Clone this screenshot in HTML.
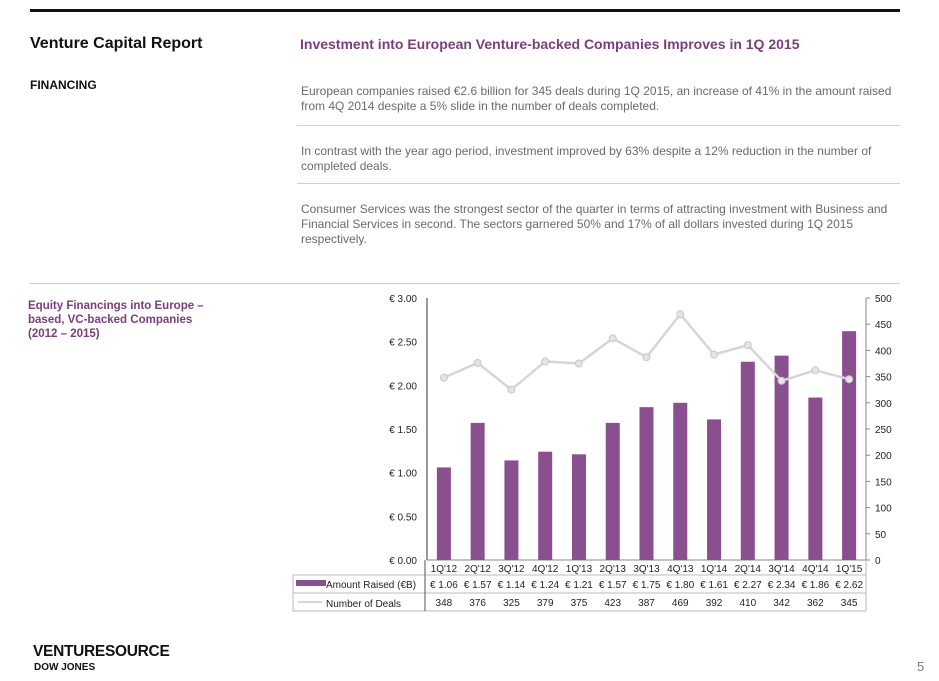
<!DOCTYPE html>
<html><head><meta charset="utf-8"><style>
body{margin:0;width:939px;height:681px;background:#fff;font-family:"Liberation Sans",sans-serif;position:relative;overflow:hidden}
.a{position:absolute}
.p{color:#6a6a6a;font-size:12px;line-height:15px;width:595px;left:301px}
.hr{position:absolute;height:1px;background:#cfcfcf}
</style></head><body>
<div class="a" style="left:30px;top:9px;width:870px;height:3px;background:#111"></div>
<div class="a" style="left:30px;top:35px;font-size:16px;font-weight:bold;color:#111">Venture Capital Report</div>
<div class="a" style="left:300px;top:36px;font-size:14px;font-weight:bold;color:#7a3e7c">Investment into European Venture-backed Companies Improves in 1Q 2015</div>
<div class="a" style="left:30px;top:78px;font-size:12px;font-weight:bold;color:#111">FINANCING</div>
<div class="a p" style="top:84px">European companies raised €2.6 billion for 345 deals during 1Q 2015, an increase of 41% in the amount raised from 4Q 2014 despite a 5% slide in the number of deals completed.</div>
<div class="hr" style="left:297px;top:125px;width:603px"></div>
<div class="a p" style="top:144px">In contrast with the year ago period, investment improved by 63% despite a 12% reduction in the number of completed deals.</div>
<div class="hr" style="left:297px;top:183px;width:603px"></div>
<div class="a p" style="top:202px">Consumer Services was the strongest sector of the quarter in terms of attracting investment with Business and Financial Services in second. The sectors garnered 50% and 17% of all dollars invested during 1Q 2015 respectively.</div>
<div class="hr" style="left:30px;top:283px;width:870px"></div>
<div class="a" style="left:28px;top:299px;font-size:11.5px;line-height:14px;font-weight:bold;color:#7a3e7c;width:185px">Equity Financings into Europe – based, VC-backed Companies (2012 – 2015)</div>
<svg id="ch" class="a" style="left:0;top:0" width="939" height="681"></svg>
<div class="a" style="left:33px;top:643px;font-size:15.5px;font-weight:bold;color:#111;letter-spacing:-0.3px">VENTURESOURCE</div>
<div class="a" style="left:34px;top:662px;font-size:10px;font-weight:bold;color:#111">DOW JONES</div>
<div class="a" style="left:917px;top:659px;font-size:13px;color:#777">5</div>
<script>
const categories=["1Q'12","2Q'12","3Q'12","4Q'12","1Q'13","2Q'13","3Q'13","4Q'13","1Q'14","2Q'14","3Q'14","4Q'14","1Q'15"];
const amounts=[1.06,1.57,1.14,1.24,1.21,1.57,1.75,1.80,1.61,2.27,2.34,1.86,2.62];
const deals=[348,376,325,379,375,423,387,469,392,410,342,362,345];
const leftTicks=[0,0.5,1,1.5,2,2.5,3];
const rightTicks=[0,50,100,150,200,250,300,350,400,450,500];
const NS="http://www.w3.org/2000/svg";
const svg=document.getElementById('ch');
const X0=427,X1=866,Y0=560,Y1=298;
const bw=(X1-X0)/categories.length;
const yL=v=>Y0-(v/3)*(Y0-Y1);
const yR=v=>Y0-(v/500)*(Y0-Y1);
const xC=i=>X0+bw*(i+0.5);
function el(t,a,txt){const e=document.createElementNS(NS,t);for(const k in a)e.setAttribute(k,a[k]);if(txt!==undefined)e.textContent=txt;svg.appendChild(e);return e;}
let e;
e=el('line',{x1:X0,y1:Y1,x2:X0,y2:Y0,stroke:'#333'});


e=el('line',{x1:X1,y1:Y1,x2:X1,y2:Y0,stroke:'#888'});


e=el('line',{x1:X0,y1:Y0,x2:X1,y2:Y0,stroke:'#888'});


leftTicks.forEach(v=>{
  e=el('text',{x:417,y:yL(v)+4,'text-anchor':'end','font-size':10,fill:'#222','font-family':'Liberation Sans'},'€ '+v.toFixed(2));
  
  
});
rightTicks.forEach(v=>{
  el('line',{x1:X1,y1:yR(v),x2:X1+4,y2:yR(v),stroke:'#888'});
  e=el('text',{x:875,y:yR(v)+4,'font-size':10,fill:'#222','font-family':'Liberation Sans'},String(v));
  
  
});
amounts.forEach((v,i)=>{
  e=el('rect',{x:xC(i)-7,y:yL(v),width:14,height:Y0-yL(v),fill:'#8a4f8e'});
  
  
});
e=el('polyline',{points:deals.map((d,i)=>xC(i)+','+yR(d)).join(' '),fill:'none',stroke:'#d6d6d6','stroke-width':2.5});


deals.forEach((d,i)=>{
  e=el('circle',{cx:xC(i),cy:yR(d),r:3.5,fill:'#e4e4e4',stroke:'#c8c8c8'});
  
  
});
const TL=293,TR=866,R0=560,R1=575,R2=593,R3=611;
[[TL,R1,TR,R1],[TL,R2,TR,R2],[TL,R3,TR,R3],[TL,R1,TL,R3],[TR,R0,TR,R3]].forEach(l=>el('line',{x1:l[0],y1:l[1],x2:l[2],y2:l[3],stroke:'#bbb'}));
el('line',{x1:X0-2,y1:R0,x2:X0-2,y2:R3,stroke:'#555'});
categories.forEach((c,i)=>{
  e=el('text',{x:xC(i),y:R1-3,'text-anchor':'middle','font-size':10,fill:'#222','font-family':'Liberation Sans'},c);
  
  
  e=el('text',{x:xC(i),y:R2-5,'text-anchor':'middle','font-size':10,fill:'#222','font-family':'Liberation Sans'},'€ '+amounts[i].toFixed(2));
  
  
  e=el('text',{x:xC(i),y:R3-5,'text-anchor':'middle','font-size':10,fill:'#222','font-family':'Liberation Sans'},String(deals[i]));
  
  
});
e=el('rect',{x:296,y:580,width:30,height:6,fill:'#8a4f8e'});


e=el('text',{x:326,y:588,'font-size':10,fill:'#222','font-family':'Liberation Sans'},'Amount Raised (€B)');


e=el('line',{x1:298,y1:602,x2:322,y2:602,stroke:'#d6d6d6','stroke-width':2});


e=el('text',{x:326,y:607,'font-size':10,fill:'#222','font-family':'Liberation Sans'},'Number of Deals');


</script>
</body></html>
